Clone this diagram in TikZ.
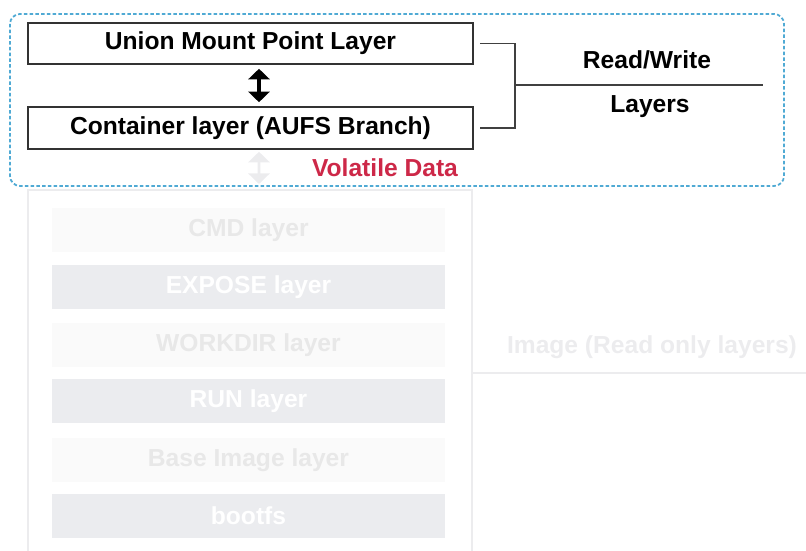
\documentclass[tikz,border=0pt]{standalone}
\usepackage{fontspec}
\setmainfont{Liberation Sans}
\usetikzlibrary{arrows.meta}

\definecolor{dashblue}{RGB}{80,170,212}
\definecolor{volred}{RGB}{205,40,72}
\definecolor{fadegray}{RGB}{236,236,238}
\definecolor{layergray}{RGB}{235,236,239}
\definecolor{faintfill}{RGB}{250,250,250}
\definecolor{fainttext}{RGB}{232,232,232}

\tikzset{
    txt/.style={font=\fontsize{14}{16}\selectfont\bfseries},
    rwbox/.style={txt, draw=black!80, line width=0.9pt, rectangle, inner sep=0pt,
        minimum width=89mm},
    faintlayer/.style={txt, rectangle, fill=faintfill, text=fainttext, inner sep=0pt,
        minimum width=78.6mm, minimum height=8.8mm},
    graylayer/.style={txt, rectangle, fill=layergray, text=white, inner sep=0pt,
        minimum width=78.6mm, minimum height=8.8mm},
    dblarrow/.style={{Triangle[width=4.2mm,length=2.1mm]}-{Triangle[width=4.2mm,length=2.1mm]}, line width=2.3pt},
    bracket/.style={draw=black!75, line width=1.1pt}
}

\begin{document}
\begin{tikzpicture}[x=0.2mm, y=-0.2mm]
        \useasboundingbox (0,0) rectangle (806,551);

        % image part (faded)
        \draw[fadegray, line width=0.6pt] (28,190) rectangle (472,560);
        \draw[fadegray, line width=0.6pt] (472,373) -- (806,373);
        \node[txt, text=fadegray] (imglabel) at (652,347) {Image (Read only layers)};

        \node[faintlayer] (cmd) at (248.5,230) {CMD layer};
        \node[graylayer] (expose) at (248.5,287) {EXPOSE layer};
        \node[faintlayer] (workdir) at (248.5,345) {WORKDIR layer};
        \node[graylayer] (run) at (248.5,401) {RUN layer};
        \node[faintlayer] (base) at (248.5,460) {Base Image layer};
        \node[graylayer] (bootfs) at (248.5,516) {bootfs};

        % read/write part
        \draw[dashblue, line width=1pt, dash pattern=on 0.7mm off 0.45mm, rounded corners=2mm]
            (10,14) rectangle (784,186);

        \node[rwbox, minimum height=8.2mm] (union) at (250.5,43.5) {Union Mount Point Layer};
        \node[rwbox, minimum height=8.4mm] (container) at (250.5,128) {Container layer (AUFS Branch)};
        \node[txt, text=volred] (volatile) at (385,168) {Volatile Data};

        \draw[dblarrow, shorten <=0.8mm, shorten >=0.8mm] ([xshift=1.7mm]union.south) -- ([xshift=1.7mm]container.north);
        \coordinate (fadeend) at (259,184);
        \draw[dblarrow, draw=fadegray, fill=fadegray, line width=1.5pt, shorten <=0.4mm] ([xshift=1.7mm]container.south) -- (fadeend);

        \coordinate (rwmid) at (515,85);
        \coordinate (rwend) at (763,85);
        \draw[bracket] ([xshift=1.2mm]union.east) -| (rwmid) |- ([xshift=1.2mm]container.east);
        \draw[bracket] (rwmid) -- (rwend);
        \node[txt] (rwtop) at (647,60) {Read/Write};
        \node[txt] (rwbot) at (650,107) {Layers};
    \end{tikzpicture}
\end{document}
